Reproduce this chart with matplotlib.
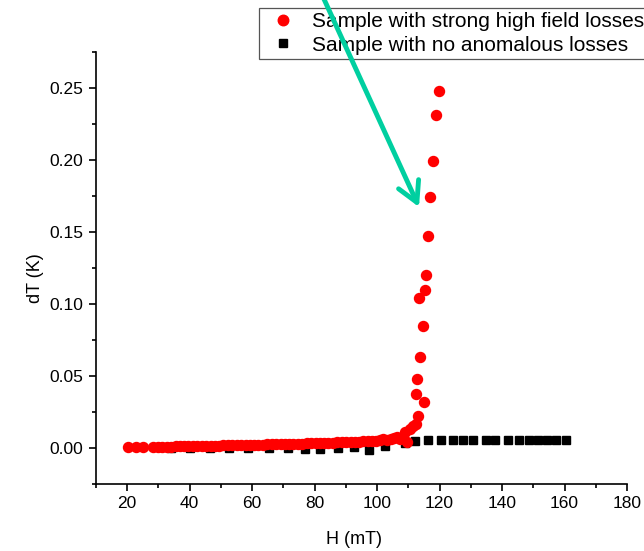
import matplotlib
import numpy as np
import matplotlib.pyplot as plt
from matplotlib.ticker import MultipleLocator

matplotlib.use('Agg')

plt.rcParams['font.family'] = ['Liberation Sans', 'DejaVu Sans']

# sample with strong high field losses (red circles)
h_strong = [20.2, 22.8, 25.1, 28.3, 29.9, 31.2, 32.7, 34.0, 35.5, 36.8, 38.3, 39.6, 41.1, 42.4,
            43.9, 45.2, 46.7, 48.0, 49.5, 50.8, 52.3, 53.6, 55.1, 56.4, 57.9, 59.2, 60.7, 62.0,
            63.5, 64.8, 66.3, 67.6, 69.1, 70.4, 71.9, 73.2, 74.7, 76.0, 77.5, 78.8, 80.3, 81.6,
            83.1, 84.4, 85.9, 87.2, 88.7, 90.0, 91.5, 92.8, 94.3, 95.6, 97.1, 98.3, 99.8, 101.0,
            101.9, 103.2, 104.4, 105.4, 106.4, 107.4, 108.9, 109.6, 110.5, 111.4, 112.4, 112.4,
            112.8, 113.0, 113.4, 113.7, 114.7, 115.0, 115.3, 115.6, 116.3, 116.9, 117.9, 118.8,
            119.8]
dt_strong = [0.0007, 0.0006, 0.0007, 0.0008, 0.0008, 0.0009, 0.0009, 0.0010, 0.0011, 0.0011,
             0.0012, 0.0012, 0.0013, 0.0014, 0.0014, 0.0015, 0.0016, 0.0016, 0.0017, 0.0018,
             0.0018, 0.0019, 0.0020, 0.0020, 0.0021, 0.0022, 0.0022, 0.0023, 0.0024, 0.0025,
             0.0025, 0.0026, 0.0027, 0.0028, 0.0029, 0.0030, 0.0030, 0.0031, 0.0032, 0.0033,
             0.0034, 0.0035, 0.0036, 0.0037, 0.0038, 0.0039, 0.0040, 0.0041, 0.0043, 0.0044,
             0.0045, 0.0047, 0.0048, 0.0050, 0.0052, 0.0055, 0.0062, 0.0058, 0.0062, 0.0066,
             0.0077, 0.0060, 0.0110, 0.0040, 0.0135, 0.0150, 0.0165, 0.0377, 0.0480, 0.0220,
             0.1040, 0.0630, 0.0850, 0.0320, 0.1095, 0.1200, 0.1470, 0.1740, 0.1990, 0.2310,
             0.2480]

# sample with no anomalous losses (black squares)
h_normal = [34.0, 40.0, 46.5, 52.5, 58.8, 65.5, 71.5, 77.0, 81.7, 87.5, 92.5, 97.4, 102.5, 108.9,
            112.0, 116.2, 120.4, 124.3, 127.5, 130.8, 134.8, 137.8, 141.9, 145.3, 148.6, 151.5,
            154.4, 157.3, 160.4]
dt_normal = [0.0000, 0.0000, 0.0000, 0.0000, 0.0000, 0.0000, -0.0003, -0.0005, -0.0005, 0.0003,
             0.0008, -0.0015, 0.0015, 0.0035, 0.0050, 0.0054, 0.0055, 0.0055, 0.0054, 0.0055,
             0.0055, 0.0055, 0.0055, 0.0056, 0.0055, 0.0055, 0.0055, 0.0054, 0.0054]

fig = plt.figure(figsize=(6.44, 5.51), dpi=100)
ax = fig.add_axes([96 / 644, 67 / 551, 531 / 644, 432 / 551])

ax.plot(h_normal, dt_normal, linestyle='none', marker='s', markersize=5.8, color='black',
        label='Sample with no anomalous losses', zorder=2)
ax.plot(h_strong, dt_strong, linestyle='none', marker='o', markersize=7.2, color='#ff0000',
        label='Sample with strong high field losses', zorder=3)

ax.set_xlim(10, 180)
ax.set_ylim(-0.025, 0.275)
ax.xaxis.set_major_locator(MultipleLocator(20))
ax.xaxis.set_minor_locator(MultipleLocator(10))
ax.yaxis.set_major_locator(MultipleLocator(0.05))
ax.yaxis.set_minor_locator(MultipleLocator(0.025))
ax.xaxis.set_major_formatter(matplotlib.ticker.FuncFormatter(lambda v, p: '%d' % v if v >= 20 else ''))
ax.yaxis.set_major_formatter(matplotlib.ticker.FormatStrFormatter('%.2f'))

for side in ['top', 'right']:
    ax.spines[side].set_visible(False)
for side in ['left', 'bottom']:
    ax.spines[side].set_linewidth(1.2)
ax.tick_params(which='major', direction='out', length=5, width=1.2, labelsize=12.5, pad=4)
ax.tick_params(which='minor', direction='out', length=3, width=1.2)

ax.set_xlabel('H (mT)', fontsize=13, labelpad=14)
ax.set_ylabel('dT (K)', fontsize=13, labelpad=4)
ax.xaxis.label.set_x(0.486)
ax.yaxis.label.set_y(0.477)

handles, labels = ax.get_legend_handles_labels()
leg = ax.legend(handles[::-1], labels[::-1], loc='upper left',
                bbox_to_anchor=(259 / 644, 1 - 8 / 551), bbox_transform=fig.transFigure,
                borderaxespad=0, fancybox=False, framealpha=1, edgecolor='#555555',
                fontsize=15, handlelength=1.95, handletextpad=0.4, labelspacing=0.22,
                borderpad=0.2, markerscale=1.05)
leg.get_frame().set_linewidth(0.9)
leg.set_zorder(5)

# teal arrow pointing at the steep rise
ax.annotate('', xy=(419, 551 - 207), xycoords='figure pixels',
            xytext=(318, 551 + 14), textcoords='figure pixels',
            arrowprops=dict(arrowstyle='->,head_length=0.4,head_width=0.22', color='#00cfa0',
                            lw=3.5, mutation_scale=36, shrinkA=0, shrinkB=0),
            annotation_clip=False, zorder=10)

fig.savefig('out.png', dpi=100)
